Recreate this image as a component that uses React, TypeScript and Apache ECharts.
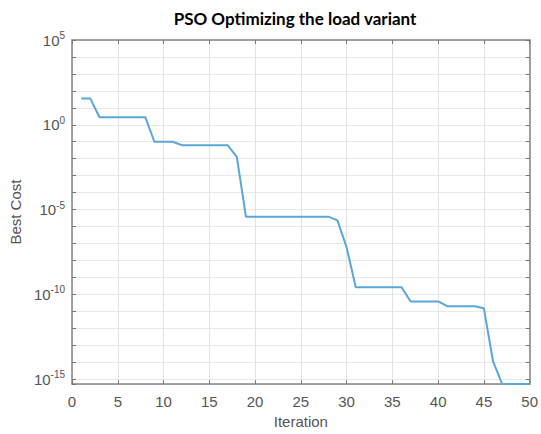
import React, { useEffect, useRef } from "react";
import * as echarts from "echarts";

const titleText = "PSO Optimizing the load variant";
const xAxisName = "Iteration";
const yAxisName = "Best Cost";
const iterations = [
  1, 2, 3, 4, 5, 6, 7, 8, 9, 10, 11, 12, 13, 14, 15, 16, 17, 18, 19, 20, 21, 22, 23, 24, 25,
  26, 27, 28, 29, 30, 31, 32, 33, 34, 35, 36, 37, 38, 39, 40, 41, 42, 43, 44, 45, 46, 47, 48, 49, 50,
];
const bestCost = [
  35, 35, 2.8, 2.8, 2.8, 2.8, 2.8, 2.8, 0.1, 0.1, 0.1, 0.063, 0.063, 0.063, 0.063, 0.063, 0.063,
  0.013, 3.8e-6, 3.8e-6, 3.8e-6, 3.8e-6, 3.8e-6, 3.8e-6, 3.8e-6, 3.8e-6, 3.8e-6, 3.8e-6, 2.3e-6,
  5.9e-8, 2.6e-10, 2.6e-10, 2.6e-10, 2.6e-10, 2.6e-10, 2.6e-10, 3.8e-11, 3.8e-11, 3.8e-11, 3.8e-11,
  2.0e-11, 2.0e-11, 2.0e-11, 2.0e-11, 1.5e-11, 1.1e-14, 5.1e-16, 5.1e-16, 5.1e-16, 5.1e-16,
];
const xTicks = [0, 5, 10, 15, 20, 25, 30, 35, 40, 45, 50];
const yLabelExponents = [-15, -10, -5, 0, 5];
const yMaxExponent = 5;

export default function App() {
  const ref = useRef<HTMLDivElement>(null);
  useEffect(() => {
    if (!ref.current) return;
    const chart = echarts.init(ref.current, null, { renderer: "svg" });
    const yMinExp = Math.log10(Math.min(...bestCost));
    const seriesData = iterations.map((it, i) => [it, Math.log10(bestCost[i])]);
    const axisLine = { show: true, onZero: false, lineStyle: { color: "#858585", width: 1.5 } };
    const axisTick = { show: true, inside: true, length: 4, lineStyle: { color: "#777", width: 1 } };
    const yFmt = (v: number) => {
      const r = Math.round(v);
      if (Math.abs(v - r) > 1e-6 || !yLabelExponents.includes(r)) return "";
      return "{b|10}{s|" + r + "}";
    };
    const yCommon = {
      type: "value" as const,
      min: yMinExp,
      max: yMaxExponent,
      splitNumber: 20,
      minInterval: 1,
      maxInterval: 1,
    };
    chart.setOption({
      animation: false,
      backgroundColor: "#ffffff",
      title: {
        text: titleText,
        left: 290,
        top: 5,
        textAlign: "center",
        textStyle: { fontFamily: "Lato", fontWeight: "bold", fontSize: 17, color: "#000" },
      },
      grid: { left: 71, right: 8, top: 40, bottom: 42, containLabel: false },
      xAxis: [
        {
          type: "value",
          min: xTicks[0],
          max: xTicks[xTicks.length - 1],
          interval: 5,
          name: xAxisName,
          nameLocation: "middle",
          nameGap: 25,
          nameTextStyle: { fontFamily: "Liberation Sans", fontSize: 15, color: "#555" },
          axisLine,
          axisTick,
          axisLabel: { margin: 10, fontFamily: "Liberation Sans", fontSize: 15, color: "#555" },
          splitLine: { show: true, lineStyle: { color: "#e3e3e3", width: 1 } },
        },
        {
          type: "value",
          position: "top",
          min: xTicks[0],
          max: xTicks[xTicks.length - 1],
          interval: 5,
          axisLine,
          axisTick,
          axisLabel: { show: false },
          splitLine: { show: false },
        },
      ],
      yAxis: [
        {
          ...yCommon,
          position: "left",
          name: yAxisName,
          nameLocation: "middle",
          nameGap: 46,
          nameTextStyle: { fontFamily: "Liberation Sans", fontSize: 15, color: "#555" },
          axisLine,
          axisTick,
          axisLabel: {
            margin: 7,
            formatter: yFmt,
            rich: {
              b: { fontFamily: "Liberation Sans", fontSize: 15, color: "#555" },
              s: { fontFamily: "Liberation Sans", fontSize: 10, color: "#555", padding: [0, 0, 9, 0] },
            },
          },
          splitLine: { show: true, lineStyle: { color: "#e8e8e8", width: 1 } },
        },
        {
          ...yCommon,
          position: "right",
          axisLine,
          axisTick,
          axisLabel: { show: false },
          splitLine: { show: false },
        },
      ],
      series: [
        {
          type: "line",
          xAxisIndex: 0,
          yAxisIndex: 0,
          data: seriesData,
          showSymbol: false,
          symbol: "none",
          clip: false,
          lineStyle: { color: "#5ba6da", width: 2 },
        },
      ],
    });
    return () => chart.dispose();
  }, []);
  return <div ref={ref} style={{ position: "fixed", left: 0, top: 0, width: 541, height: 434 }} />;
}
